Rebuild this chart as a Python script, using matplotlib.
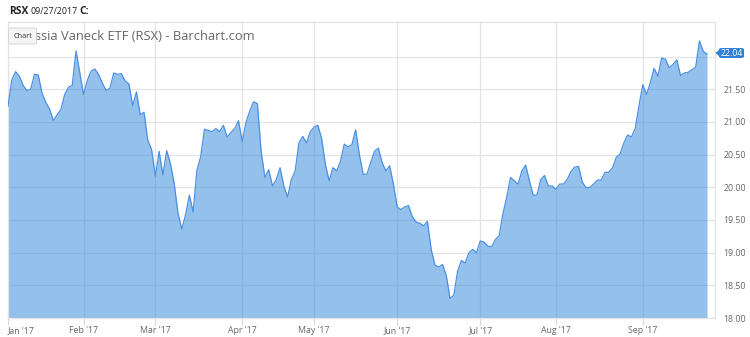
import matplotlib
matplotlib.use("Agg")
import matplotlib.pyplot as plt
from matplotlib.patches import FancyBboxPatch, Polygon
import numpy as np
import pandas as pd

# ---------------- data ----------------
holidays = ["2017-01-16", "2017-02-20", "2017-04-14", "2017-05-29", "2017-07-04", "2017-09-04"]
dates = pd.bdate_range("2017-01-03", "2017-09-27")
dates = dates[~dates.isin(pd.to_datetime(holidays))]

close = [
    21.24, 21.64, 21.77, 21.70, 21.56, 21.48, 21.50, 21.73, 21.72, 21.44,
    21.30, 21.20, 21.02, 21.11, 21.19, 21.42, 21.53, 21.56, 22.09, 21.75,
    21.42, 21.64, 21.78, 21.81, 21.72, 21.59, 21.48, 21.52, 21.75, 21.73,
    21.74, 21.63, 21.58, 21.25, 21.46, 21.11, 21.15, 20.72, 20.58, 20.17,
    20.55, 20.19, 20.56, 20.36, 20.05, 19.60, 19.36, 19.58, 19.88, 19.62,
    20.26, 20.47, 20.89, 20.87, 20.85, 20.90, 20.85, 20.95, 20.77, 20.84,
    20.90, 21.02, 20.70, 21.00, 21.17, 21.31, 21.28, 20.55, 20.15, 20.27,
    20.02, 20.12, 20.30, 20.02, 19.85, 20.12, 20.25, 20.68, 20.78, 20.68,
    20.85, 20.92, 20.95, 20.75, 20.35, 20.10, 20.30, 20.25, 20.40, 20.66,
    20.62, 20.65, 20.88, 20.50, 20.20, 20.20, 20.38, 20.55, 20.60, 20.38,
    20.25, 20.33, 20.05, 19.70, 19.66, 19.70, 19.72, 19.55, 19.47, 19.45,
    19.41, 19.48, 19.05, 18.81, 18.78, 18.82, 18.65, 18.30, 18.35, 18.72,
    18.88, 18.84, 19.00, 19.05, 19.00, 19.18, 19.16, 19.10, 19.09, 19.20,
    19.26, 19.60, 19.85, 20.15, 20.10, 20.05, 20.25, 20.34, 20.10, 19.88,
    19.88, 20.12, 20.18, 20.02, 20.02, 19.97, 20.05, 20.05, 20.12, 20.24,
    20.31, 20.32, 20.08, 19.99, 20.00, 20.05, 20.11, 20.11, 20.23, 20.23,
    20.30, 20.46, 20.51, 20.68, 20.80, 20.77, 20.90, 21.25, 21.57, 21.42,
    21.60, 21.82, 21.70, 21.98, 21.96, 21.83, 21.88, 21.95, 21.71, 21.75,
    21.76, 21.80, 21.84, 22.24, 22.08, 22.04,
]
assert len(close) == len(dates)

ticker = "RSX"
asof = "09/27/2017"
chart_title = "Russia Vaneck ETF (RSX) - Barchart.com"
last_label = "22.04"
y_ticks = [18.0, 18.5, 19.0, 19.5, 20.0, 20.5, 21.0, 21.5, 22.0]

# ---------------- figure ----------------
W, H = 750, 337
fig = plt.figure(figsize=(W / 100, H / 100), dpi=100)
plt.rcParams["font.family"] = ["Open Sans", "DejaVu Sans"]

def fx(px):
    return px / W

def fy(py):
    return 1 - py / H

left, right, top, bottom = 8, 715, 22, 318
ax = fig.add_axes([fx(left), fy(bottom), fx(right) - fx(left), fy(top) - fy(bottom)])

x = np.arange(len(close))
ax.fill_between(x, 18.0, close, color="#3c8edc", alpha=0.55, lw=0, zorder=2)
ax.plot(x, close, color="#4a90e2", lw=0.9, zorder=3)

n = len(close)
ax.set_xlim(0, (n - 1) + (right - 707) / ((707 - left) / (n - 1)))
ax.set_ylim(18.0, 22.53)

# month ticks at first trading day of each month
months = pd.Series(dates.month)
first_idx = [i for i in range(n) if i == 0 or months[i] != months[i - 1]]
month_labels = [dates[i].strftime("%b '%y") for i in first_idx]
ax.set_xticks(first_idx)
ax.set_xticklabels(month_labels)
ax.set_yticks(y_ticks)
ax.set_yticklabels(["%.2f" % v if v < 22 else "" for v in y_ticks])
ax.yaxis.tick_right()

ax.grid(True, color="#e3e3e3", lw=0.9, zorder=0)
ax.set_axisbelow(True)
ax.tick_params(axis="x", length=5, color="#d8d8d8", width=0.8, labelsize=6.3,
               labelcolor="#666666", pad=0.8)
ax.tick_params(axis="y", length=0, labelsize=6.3, labelcolor="#666666", pad=6)
for lab in ax.get_xticklabels():
    lab.set_ha("center")
ax.get_xticklabels()[0].set_ha("left")

for s in ax.spines.values():
    s.set_color("#e3e3e3")
    s.set_linewidth(0.9)

# last price label
ly = fy(53)
box = FancyBboxPatch((fx(719), fy(58)), fx(744) - fx(719), fy(48) - fy(58),
                     boxstyle="round,pad=0,rounding_size=0.004",
                     transform=fig.transFigure, fc="#2f80d8", ec="none", zorder=10)
fig.patches.append(box)
tri = Polygon([[fx(715.5), ly], [fx(719.5), fy(49.5)], [fx(719.5), fy(56.5)]],
              closed=True, transform=fig.transFigure, fc="#2f80d8", ec="none", zorder=10)
fig.patches.append(tri)
fig.text(fx(731.5), ly, last_label, color="white", fontsize=6.3, ha="center",
         va="center", zorder=11)

# header: chained texts so they never collide
t1 = fig.text(fx(9), fy(11), ticker, fontsize=7.4, fontweight="bold", color="#222222",
              ha="left", va="center")
t2 = ax.annotate(asof, xy=(1, 0.5), xycoords=t1, xytext=(1.5, 0),
                 textcoords="offset points", fontsize=6.4, color="#222222",
                 ha="left", va="center", annotation_clip=False)
t3 = ax.annotate("C:", xy=(1, 0.5), xycoords=t2, xytext=(1.5, 0),
                 textcoords="offset points", fontsize=7.4, fontweight="bold",
                 color="#222222", ha="left", va="center", annotation_clip=False)

# chart title (partly hidden behind button, as in the original)
fig.text(fx(255), fy(36), chart_title, fontsize=9.3, color="#666666",
         ha="right", va="center", zorder=5)
btn = FancyBboxPatch((fx(8.5), fy(44)), fx(36.5) - fx(8.5), fy(28) - fy(44),
                     boxstyle="round,pad=0,rounding_size=0.003",
                     transform=fig.transFigure, fc="#f5f5f5", ec="#cfcfcf", lw=0.6, zorder=20)
fig.patches.append(btn)
fig.text(fx(22.5), fy(36.3), "Chart", fontsize=5.3, color="#333333",
         ha="center", va="center", zorder=21)

fig.savefig("out.png", dpi=100)
